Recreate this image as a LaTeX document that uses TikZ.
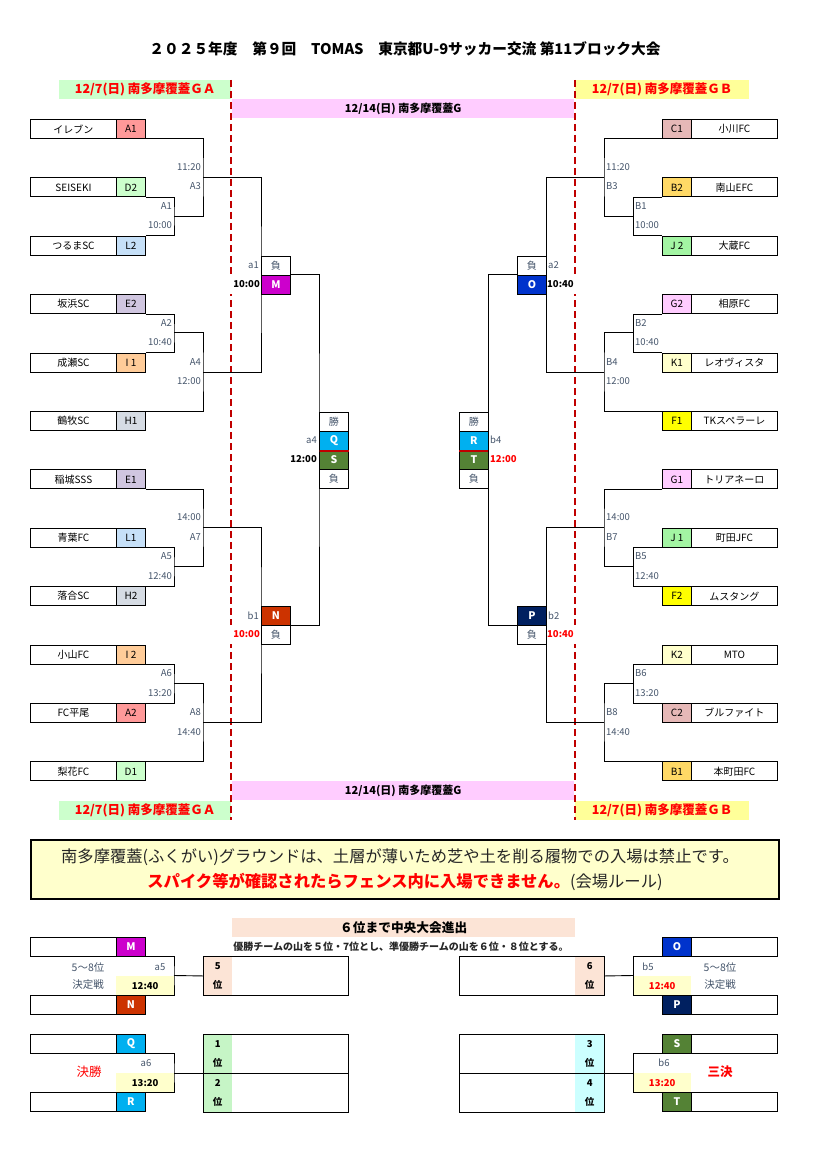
\documentclass[tikz,border=0pt]{standalone}
\usepackage{fontspec}
\setmainfont{Noto Sans CJK JP}
\usetikzlibrary{calc}

\definecolor{cA}{HTML}{FF9999}
\definecolor{cD}{HTML}{CCFFCC}
\definecolor{cL}{HTML}{C6E0F8}
\definecolor{cE}{HTML}{D0C6E0}
\definecolor{cI}{HTML}{FFCC99}
\definecolor{cH}{HTML}{D6DCE4}
\definecolor{cC}{HTML}{E6B8B7}
\definecolor{cB}{HTML}{FFD966}
\definecolor{cJ}{HTML}{A3F5A3}
\definecolor{cG}{HTML}{FFCCFF}
\definecolor{cK}{HTML}{FFFFCC}
\definecolor{cF}{HTML}{FFFF00}
\definecolor{cM}{HTML}{CC00CC}
\definecolor{cN}{HTML}{CC3300}
\definecolor{cO}{HTML}{0033CC}
\definecolor{cP}{HTML}{002060}
\definecolor{cQ}{HTML}{00B0F0}
\definecolor{cS}{HTML}{548235}
\definecolor{hgreen}{HTML}{CCFFCC}
\definecolor{hpink}{HTML}{FFCCFF}
\definecolor{hyellow}{HTML}{FFFF99}
\definecolor{peach}{HTML}{FCE4D6}
\definecolor{pgreen}{HTML}{C6F5C6}
\definecolor{pcyan}{HTML}{CCFFFF}
\definecolor{tyellow}{HTML}{FFFFCC}
\definecolor{dred}{HTML}{C00000}
\definecolor{labc}{HTML}{44546A}

\begin{document}
\begin{tikzpicture}[x=1pt, y=-1pt,
		every node/.style={inner sep=0pt},
		teambox/.style={draw, line width=0.9pt, minimum width=86pt, minimum height=19pt, anchor=north west, font=\fontsize{10}{10}\selectfont},
		codebox/.style={draw, line width=0.9pt, minimum width=29pt, minimum height=19pt, anchor=north west, font=\fontsize{10}{10}\selectfont},
		keybox/.style={codebox, text=white, font=\fontsize{10.5}{10.5}\selectfont\bfseries},
		markbox/.style={codebox, text=labc},
		lab/.style={text=labc, font=\fontsize{9.5}{9.5}\selectfont},
		biglab/.style={text=labc, font=\fontsize{10.5}{10.5}\selectfont},
		timelab/.style={font=\fontsize{9.5}{9.5}\selectfont\bfseries},
		cover/.style={timelab, fill=white, minimum height=19pt, text width=31pt},
		hdr/.style={minimum height=19pt, anchor=north west, font=\fontsize{12.5}{12.5}\selectfont\bfseries, text=red},
		subhdr/.style={fill=hpink, minimum width=342pt, minimum height=19pt, anchor=north west, font=\fontsize{11}{11}\selectfont\bfseries},
		dashline/.style={dred, line width=2pt, dash pattern=on 7pt off 4pt},
		link/.style={line width=0.9pt},
		timebox/.style={timelab, fill=tyellow, minimum width=58pt, minimum height=19pt, anchor=north west},
		posbox/.style={minimum width=29pt, minimum height=39pt, anchor=north west, align=center, font=\fontsize{9.5}{19}\selectfont\bfseries},
		posframe/.style={draw, line width=0.9pt, minimum width=145pt, minimum height=39pt, anchor=north west},
	]
		\useasboundingbox (0,0) rectangle (816,1166);

		% title and headers
		\node[font=\fontsize{14.7}{14.7}\selectfont\bfseries] (title) at (405,49) {２０２５年度　第９回　TOMAS　東京都U-9サッカー交流 第11ブロック大会};

		\node[hdr, fill=hgreen, minimum width=172pt] (hA) at (59,80) {12/7(日) 南多摩覆蓋ＧＡ};
		\node[hdr, fill=hyellow, minimum width=174pt] (hB) at (575,80) {12/7(日) 南多摩覆蓋ＧＢ};
		\node[subhdr] (hC) at (232,99) {12/14(日) 南多摩覆蓋G};
		\node[subhdr] (hC2) at (232,781) {12/14(日) 南多摩覆蓋G};
		\node[hdr, fill=hgreen, minimum width=172pt] (hA2) at (59,801) {12/7(日) 南多摩覆蓋ＧＡ};
		\node[hdr, fill=hyellow, minimum width=174pt] (hB2) at (575,801) {12/7(日) 南多摩覆蓋ＧＢ};

		\draw[dashline] (hA.north east) -- (hA2.south east);
		\draw[dashline] (hB.north west) -- (hB2.south west);

		\node[cover, align=right, anchor=east] (tmM) at (260,284) {10:00};
		\node[cover, align=right, anchor=east, text=red] (tmN) at (260,634.4) {10:00};
		\node[cover, align=left, anchor=west] (tmO) at (547,284) {10:40};
		\node[cover, align=left, anchor=west, text=red] (tmP) at (547,634.4) {10:40};

		% teams
		\foreach \n/\l/\t/\c [count=\i from 0] in {A1/A1/イレブン/cA, D2/D2/SEISEKI/cD, L2/L2/つるまSC/cL, E2/E2/坂浜SC/cE, I1/I 1/成瀬SC/cI, H1/H1/鶴牧SC/cH, E1/E1/稲城SSS/cE, L1/L1/青葉FC/cL, H2/H2/落合SC/cH, I2/I 2/小山FC/cI, A2/A2/FC平尾/cA, D1/D1/梨花FC/cD}
		{
			\node[teambox] (t\n) at (30,{119+58.4*\i}) {\t};
			\node[codebox, fill=\c] (\n) at (116,{119+58.4*\i}) {\l};
		}
		\foreach \n/\l/\t/\c [count=\i from 0] in {C1/C1/小川FC/cC, B2/B2/南山EFC/cB, J2/J 2/大蔵FC/cJ, G2/G2/相原FC/cG, K1/K1/レオヴィスタ/cK, F1/F1/TKスペラーレ/cF, G1/G1/トリアネーロ/cG, J1/J 1/町田JFC/cJ, F2/F2/ムスタング/cF, K2/K2/MTO/cK, C2/C2/ブルファイト/cC, B1/B1/本町田FC/cB}
		{
			\node[codebox, fill=\c] (\n) at (662,{119+58.4*\i}) {\l};
			\node[teambox] (t\n) at (691,{119+58.4*\i}) {\t};
		}

		% 2nd day
		\node[markbox] (lM) at (261,255.5) {負};
		\node[keybox, fill=cM] (M) at (261,274.5) {M};
		\node[keybox, fill=cN] (N) at (261,605.9) {N};
		\node[markbox] (lN) at (261,624.9) {負};
		\node[markbox] (wQ) at (319,411.7) {勝};
		\node[keybox, fill=cQ] (Q) at (319,430.7) {Q};
		\node[keybox, fill=cS] (S) at (319,449.7) {S};
		\node[markbox] (lS) at (319,468.7) {負};

		\node[markbox] (lO) at (517,255.5) {負};
		\node[keybox, fill=cO] (O) at (517,274.5) {O};
		\node[keybox, fill=cP] (P) at (517,605.9) {P};
		\node[markbox] (lP) at (517,624.9) {負};
		\node[markbox] (wR) at (459,411.7) {勝};
		\node[keybox, fill=cQ] (R) at (459,430.7) {R};
		\node[keybox, fill=cS] (T) at (459,449.7) {T};
		\node[markbox] (lT) at (459,468.7) {負};

		\draw[dred, line width=2pt] (Q.south west) -- (Q.south east);
		\draw[dred, line width=2pt] (R.south west) -- (R.south east);

		% bracket A
		\coordinate (mA1) at (174,216.1);
		\coordinate (mA3) at (203,177.05);
		\coordinate (mA2) at (174,332.9);
		\coordinate (mA4) at (203,371.95);
		\coordinate (mA5) at (174,566.5);
		\coordinate (mA7) at (203,527.45);
		\coordinate (mA6) at (174,683.3);
		\coordinate (mA8) at (203,722.35);
		\draw[link] (D2.south east) -| (mA1) |- (L2.north east);
		\draw[link] (A1.south east) -| (mA3) |- (mA1);
		\draw[link] (E2.south east) -| (mA2) |- (I1.north east);
		\draw[link] (mA2) -| (mA4) |- (H1.north east);
		\draw[link] (L1.south east) -| (mA5) |- (H2.north east);
		\draw[link] (E1.south east) -| (mA7) |- (mA5);
		\draw[link] (I2.south east) -| (mA6) |- (A2.north east);
		\draw[link] (mA6) -| (mA8) |- (D1.north east);
		\draw[link] (mA3) -| (M.north west) -- (M.south west) |- (mA4);
		\draw[link] (mA7) -| (N.north west) -- (N.south west) |- (mA8);
		\draw[link] (M.north east) -| (Q.north west) -- (S.south west) |- (N.south east);

		% bracket B
		\coordinate (mB1) at (633,216.1);
		\coordinate (mB3) at (604,177.05);
		\coordinate (mB2) at (633,332.9);
		\coordinate (mB4) at (604,371.95);
		\coordinate (mB5) at (633,566.5);
		\coordinate (mB7) at (604,527.45);
		\coordinate (mB6) at (633,683.3);
		\coordinate (mB8) at (604,722.35);
		\draw[link] (B2.south west) -| (mB1) |- (J2.north west);
		\draw[link] (C1.south west) -| (mB3) |- (mB1);
		\draw[link] (G2.south west) -| (mB2) |- (K1.north west);
		\draw[link] (mB2) -| (mB4) |- (F1.north west);
		\draw[link] (J1.south west) -| (mB5) |- (F2.north west);
		\draw[link] (G1.south west) -| (mB7) |- (mB5);
		\draw[link] (K2.south west) -| (mB6) |- (C2.north west);
		\draw[link] (mB6) -| (mB8) |- (B1.north west);
		\draw[link] (mB3) -| (O.north east) -- (O.south east) |- (mB4);
		\draw[link] (mB7) -| (P.north east) -- (P.south east) |- (mB8);
		\draw[link] (O.north west) -| (R.north east) -- (T.south east) |- (P.south west);

		% match numbers and times
		\foreach \k/\x/\y/\a/\b in {A3/201/177.05/11:20/A3, A1/172/216.1/A1/10:00, A2/172/332.9/A2/10:40, A4/201/371.95/A4/12:00, A7/201/527.45/14:00/A7, A5/172/566.5/A5/12:40, A6/172/683.3/A6/13:20, A8/201/722.35/A8/14:40}
		{
			\node[lab, anchor=east] (u\k) at (\x,{\y-10}) {\a};
			\node[lab, anchor=east] (d\k) at (\x,{\y+9.5}) {\b};
		}
		\foreach \k/\x/\y/\a/\b in {B3/606/177.05/11:20/B3, B1/635/216.1/B1/10:00, B2/635/332.9/B2/10:40, B4/606/371.95/B4/12:00, B7/606/527.45/14:00/B7, B5/635/566.5/B5/12:40, B6/635/683.3/B6/13:20, B8/606/722.35/B8/14:40}
		{
			\node[lab, anchor=west] (u\k) at (\x,{\y-10}) {\a};
			\node[lab, anchor=west] (d\k) at (\x,{\y+9.5}) {\b};
		}
		\node[lab, anchor=east] (ka1) at (259,265) {a1};
		\node[lab, anchor=east] (kb1) at (259,615.4) {b1};
		\node[lab, anchor=east] (ka4) at (317,440.2) {a4};
		\node[timelab, anchor=east] (tma4) at (317,459.2) {12:00};
		\node[lab, anchor=west] (ka2) at (548,265) {a2};
		\node[lab, anchor=west] (kb2) at (548,615.4) {b2};
		\node[lab, anchor=west] (kb4) at (490,440.2) {b4};
		\node[timelab, anchor=west, text=red] (tmb4) at (490,459.2) {12:00};

		% notice
		\node[draw, line width=2pt, fill=tyellow, minimum width=748pt, minimum height=59pt, anchor=north west] (notice) at (30,839) {};
		\node[font=\fontsize{16.3}{16.3}\selectfont, text=black!85] (n1) at (400,857) {南多摩覆蓋(ふくがい)グラウンドは、土層が薄いため芝や土を削る履物での入場は禁止です。};
		\node[font=\fontsize{16.3}{16.3}\selectfont, text=black!85] (n2) at (405,882) {\textcolor{red}{\bfseries スパイク等が確認されたらフェンス内に入場できません。}(会場ルール)};

		% placings
		\node[fill=peach, minimum width=343pt, minimum height=19pt, anchor=north west, font=\fontsize{12.7}{12.7}\selectfont\bfseries] (adv) at (232,918) {６位まで中央大会進出};
		\node[font=\fontsize{10}{10}\selectfont\bfseries, text=black!85] (rule) at (401,947) {優勝チームの山を５位・7位とし、準優勝チームの山を６位・８位とする。};

		\node[timebox] (t5) at (116,976) {12:40};
		\node[teambox] (tM5) at (30,937) {};
		\node[keybox, fill=cM] (M5) at (116,937) {M};
		\node[teambox] (tN5) at (30,995) {};
		\node[keybox, fill=cN] (N5) at (116,995) {N};
		\node[posbox, fill=peach] (p5c) at (203,956) {5\\位};
		\node[posframe] (p5) at (203,956) {};
		\coordinate (j5) at (174,975.5);
		\draw[link] (M5.south east) -| (j5) |- (N5.north east);
		\draw[link] (j5) -- (p5.west);
		\node[biglab] (s5a) at (88,967) {5〜8位};
		\node[biglab] (s5b) at (88,985) {決定戦};
		\node[lab] (ka5) at (160,967) {a5};

		\node[timebox] (t1) at (116,1073) {13:20};
		\node[teambox] (tQ5) at (30,1034) {};
		\node[keybox, fill=cQ] (Q5) at (116,1034) {Q};
		\node[teambox] (tR5) at (30,1092) {};
		\node[keybox, fill=cQ] (R5) at (116,1092) {R};
		\node[posbox, fill=pgreen] (p1c) at (203,1034) {1\\位};
		\node[posbox, fill=pgreen] (p2c) at (203,1073) {2\\位};
		\node[posframe] (p1) at (203,1034) {};
		\node[posframe] (p2) at (203,1073) {};
		\coordinate (j1) at (174,1073);
		\draw[link] (Q5.south east) -| (j1) |- (R5.north east);
		\draw[link] (j1) -- (p2.north west);
		\node[font=\fontsize{12.5}{12.5}\selectfont, text=red] (fin) at (89,1072) {決勝};
		\node[lab] (ka6) at (146,1063) {a6};

		\node[timebox, text=red] (t6) at (633,976) {12:40};
		\node[keybox, fill=cO] (O5) at (662,937) {O};
		\node[teambox] (tO5) at (691,937) {};
		\node[keybox, fill=cP] (P5) at (662,995) {P};
		\node[teambox] (tP5) at (691,995) {};
		\node[posbox, fill=peach] (p6c) at (575,956) {6\\位};
		\node[posframe] (p6) at (459,956) {};
		\coordinate (j6) at (633,975.5);
		\draw[link] (O5.south west) -| (j6) |- (P5.north west);
		\draw[link] (j6) -- (p6.east);
		\node[lab] (kb5) at (648,967) {b5};
		\node[biglab] (s6a) at (720,967) {5〜8位};
		\node[biglab] (s6b) at (720,985) {決定戦};

		\node[timebox, text=red] (t3) at (633,1073) {13:20};
		\node[keybox, fill=cS] (S5) at (662,1034) {S};
		\node[teambox] (tS5) at (691,1034) {};
		\node[keybox, fill=cS] (T5) at (662,1092) {T};
		\node[teambox] (tT5) at (691,1092) {};
		\node[posbox, fill=pcyan] (p3c) at (575,1034) {3\\位};
		\node[posbox, fill=pcyan] (p4c) at (575,1073) {4\\位};
		\node[posframe] (p3) at (459,1034) {};
		\node[posframe] (p4) at (459,1073) {};
		\coordinate (j3) at (633,1073);
		\draw[link] (S5.south west) -| (j3) |- (T5.north west);
		\draw[link] (j3) -- (p4.north east);
		\node[lab] (kb6) at (664,1063) {b6};
		\node[font=\fontsize{12.5}{12.5}\selectfont\bfseries, text=red] (thd) at (720,1072) {三決};
	\end{tikzpicture}
\end{document}
